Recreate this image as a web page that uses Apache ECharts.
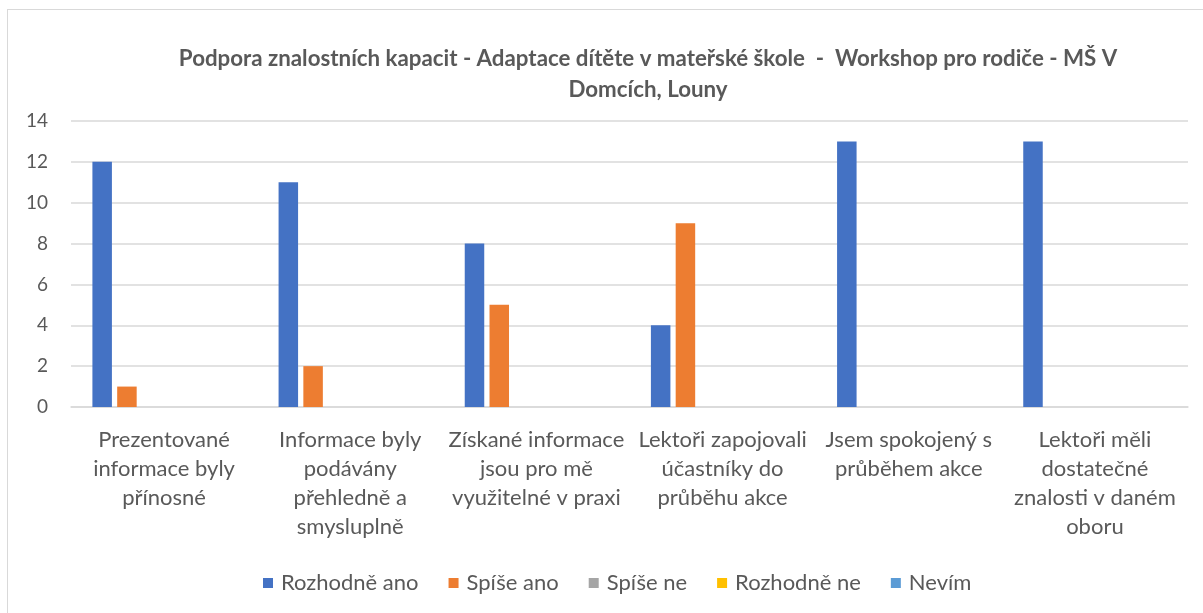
<!DOCTYPE html>
<html>
<head>
<meta charset="utf-8">
<script src="https://cdn.jsdelivr.net/npm/echarts@6/dist/echarts.min.js"></script>
<style>
  html, body { margin: 0; padding: 0; background: #fff; }
  .frame {
    position: absolute; left: 7px; top: 9px; width: 1300px; height: 700px;
    border-left: 1px solid #d9d9d9; border-top: 1px solid #d9d9d9;
  }
  #chart { position: absolute; left: 0; top: 0; width: 1203px; height: 613px; }
</style>
</head>
<body>
<div class="frame"></div>
<div id="chart"></div>
<script>
const chartTitle = 'Podpora znalostních kapacit - Adaptace dítěte v mateřské škole  -  Workshop pro rodiče - MŠ V\nDomcích, Louny'

const categories = [
  'Prezentované\ninformace byly\npřínosné',
  'Informace byly\npodávány\npřehledně a\nsmysluplně',
  'Získané informace\njsou pro mě\nvyužitelné v praxi',
  'Lektoři zapojovali\núčastníky do\nprůběhu akce',
  'Jsem spokojený s\nprůběhem akce',
  'Lektoři měli\ndostatečné\nznalosti v daném\noboru'
]

const seriesNames = ['Rozhodně ano', 'Spíše ano', 'Spíše ne', 'Rozhodně ne', 'Nevím']
const rozhodneAno = [12, 11, 8, 4, 13, 13]
const spiseAno = [1, 2, 5, 9, 0, 0]
const spiseNe = [0, 0, 0, 0, 0, 0]
const rozhodneNe = [0, 0, 0, 0, 0, 0]
const nevim = [0, 0, 0, 0, 0, 0]
// empty sixth column in the source sheet, takes a slot but no legend entry
const prazdne = [0, 0, 0, 0, 0, 0]

const colors = ['#4472C4', '#ED7D31', '#A5A5A5', '#FFC000', '#5B9BD5', '#70AD47']
const font = 'Lato, "Open Sans", sans-serif'
const textColor = '#595959'

const chart = echarts.init(document.getElementById('chart'))

const values = [rozhodneAno, spiseAno, spiseNe, rozhodneNe, nevim, prazdne]
const series = values.map((v, i) => ({
  name: i < seriesNames.length ? seriesNames[i] : '',
  type: 'bar',
  data: v,
  barGap: '27%',
  barCategoryGap: '23%',
  itemStyle: { color: colors[i] }
}))

chart.setOption({
  animation: false,
  textStyle: { fontFamily: font },
  title: {
    text: chartTitle,
    left: 643,
    top: 38,
    textAlign: 'center',
    textStyle: {
      fontFamily: font,
      fontSize: 22.3,
      fontWeight: 'bold',
      color: textColor,
      lineHeight: 31
    }
  },
  legend: {
    data: seriesNames,
    left: 258,
    top: 567,
    itemWidth: 10,
    itemHeight: 10,
    itemGap: 30,
    icon: 'rect',
    textStyle: { fontFamily: font, fontSize: 22, color: textColor, padding: [0, 0, 0, 3] }
  },
  grid: {
    left: 71,
    right: 15,
    top: 121,
    bottom: 206
  },
  xAxis: {
    type: 'category',
    data: categories,
    axisLine: { lineStyle: { color: '#d9d9d9', width: 1.5 } },
    axisTick: { show: false },
    axisLabel: {
      interval: 0,
      margin: 18,
      color: textColor,
      fontFamily: font,
      fontSize: 22,
      lineHeight: 29
    }
  },
  yAxis: {
    type: 'value',
    min: 0,
    max: 14,
    interval: 2,
    axisLine: { show: false },
    axisTick: { show: false },
    splitLine: { lineStyle: { color: '#d9d9d9', width: 1.5 } },
    axisLabel: {
      margin: 23,
      color: textColor,
      fontFamily: font,
      fontSize: 19
    }
  },
  series: series
})
</script>
</body>
</html>
